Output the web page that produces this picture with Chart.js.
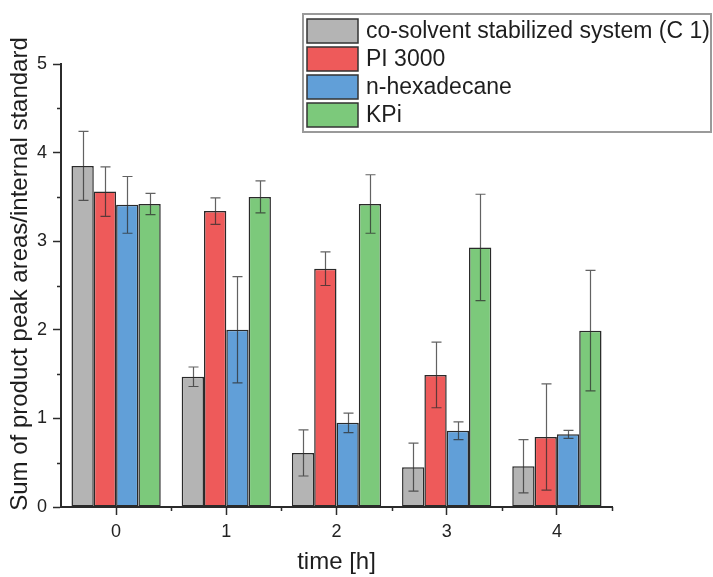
<!DOCTYPE html>
<html>
<head>
<meta charset="utf-8">
<script src="https://cdn.jsdelivr.net/npm/chart.js@4/dist/chart.umd.min.js"></script>
<style>
  html, body { margin: 0; padding: 0; background: #fff; }
  canvas { display: block; }
</style>
</head>
<body>
<canvas id="chart" width="713" height="577"></canvas>
<script>
// time points (h)
const times = ['0', '1', '2', '3', '4'];

// mean values and standard deviations per system
const cosolvent = [3.85, 1.47, 0.61, 0.45, 0.46];
const cosolventErr = [0.39, 0.11, 0.26, 0.27, 0.30];
const pi3000 = [3.56, 3.34, 2.69, 1.49, 0.79];
const pi3000Err = [0.28, 0.15, 0.19, 0.37, 0.60];
const hexadecane = [3.41, 2.00, 0.95, 0.86, 0.82];
const hexadecaneErr = [0.32, 0.60, 0.11, 0.10, 0.045];
const kpi = [3.42, 3.50, 3.42, 2.93, 1.99];
const kpiErr = [0.12, 0.18, 0.33, 0.60, 0.68];

const seriesNames = ['co-solvent stabilized system (C 1)', 'PI 3000', 'n-hexadecane', 'KPi'];
const seriesColors = ['#b4b4b4', '#ee5a5a', '#619fd8', '#7cc97b'];

const yMin = 0, yMax = 5, yStep = 1;
const yTitle = 'Sum of product peak areas/internal standard';

const FONT = '"Liberation Sans", Arial, sans-serif';
const INK = '#2b2b2b';

function makeSet(i, data, errors) {
  return {
    label: seriesNames[i],
    data: data,
    errors: errors,
    backgroundColor: seriesColors[i],
    borderColor: '#2a2a2a',
    borderWidth: 1.5,
    borderSkipped: false,
    barPercentage: 1,
    categoryPercentage: 0.81
  };
}

// error bars with short caps, drawn from the y scale
const errorBars = {
  id: 'errorBars',
  afterDatasetsDraw(chart) {
    const ctx = chart.ctx, y = chart.scales.y;
    ctx.save();
    ctx.strokeStyle = 'rgba(45,45,45,0.75)';
    ctx.lineWidth = 1.2;
    chart.data.datasets.forEach((ds, i) => {
      chart.getDatasetMeta(i).data.forEach((bar, j) => {
        const v = ds.data[j], e = ds.errors[j];
        const top = y.getPixelForValue(v + e);
        const bot = y.getPixelForValue(v - e);
        const x = Math.round(bar.x) + 0.5;
        ctx.beginPath();
        ctx.moveTo(x, top); ctx.lineTo(x, bot);
        ctx.moveTo(x - 5, top); ctx.lineTo(x + 5, top);
        ctx.moveTo(x - 5, bot); ctx.lineTo(x + 5, bot);
        ctx.stroke();
      });
    });
    ctx.restore();
  }
};

// short minor ticks (half steps on y, category edges on x) and the y title
const axisExtras = {
  id: 'axisExtras',
  afterDraw(chart) {
    const { ctx, chartArea: a } = chart;
    const x = chart.scales.x, y = chart.scales.y;
    ctx.save();
    ctx.strokeStyle = INK;
    ctx.lineWidth = 1.5;
    ctx.beginPath();
    for (let v = yMin + yStep / 2; v < yMax; v += yStep) {
      const py = Math.round(y.getPixelForValue(v)) + 0.5;
      ctx.moveTo(a.left, py); ctx.lineTo(a.left - 4, py);
    }
    for (let i = 0; i < times.length; i++) {
      const px = Math.round(x.getPixelForValue(i + 0.5)) + 0.5;
      ctx.moveTo(px, a.bottom); ctx.lineTo(px, a.bottom + 4);
    }
    ctx.stroke();

    ctx.translate(20, 274);
    ctx.rotate(-Math.PI / 2);
    ctx.font = '24px ' + FONT;
    ctx.fillStyle = '#1e1e1e';
    ctx.textAlign = 'center';
    ctx.textBaseline = 'middle';
    ctx.fillText(yTitle, 0, 0);
    ctx.restore();
  }
};

// framed legend sitting over the top right of the plot
const boxLegend = {
  id: 'boxLegend',
  afterDraw(chart) {
    const ctx = chart.ctx;
    const bx = 303, by = 14, bw = 408, bh = 118;
    ctx.save();
    ctx.fillStyle = '#fff';
    ctx.fillRect(bx, by, bw, bh);
    ctx.strokeStyle = '#9a9a9a';
    ctx.lineWidth = 2;
    ctx.strokeRect(bx, by, bw, bh);
    ctx.font = '23px ' + FONT;
    ctx.textBaseline = 'middle';
    ctx.textAlign = 'left';
    chart.data.datasets.forEach((ds, i) => {
      const sy = 19 + i * 28;
      ctx.fillStyle = ds.backgroundColor;
      ctx.fillRect(307, sy, 51, 24);
      ctx.strokeStyle = '#333';
      ctx.lineWidth = 1.5;
      ctx.strokeRect(307, sy, 51, 24);
      ctx.fillStyle = '#1e1e1e';
      ctx.fillText(ds.label, 366, sy + 13);
    });
    ctx.restore();
  }
};

new Chart(document.getElementById('chart'), {
  type: 'bar',
  data: {
    labels: times,
    datasets: [
      makeSet(0, cosolvent, cosolventErr),
      makeSet(1, pi3000, pi3000Err),
      makeSet(2, hexadecane, hexadecaneErr),
      makeSet(3, kpi, kpiErr)
    ]
  },
  options: {
    responsive: false,
    animation: false,
    layout: { padding: { top: 64, right: 101, left: 0, bottom: 0 } },
    plugins: { legend: { display: false }, tooltip: { enabled: false } },
    scales: {
      x: {
        grid: { drawOnChartArea: false, offset: false, tickLength: 8, tickColor: INK, tickWidth: 1.5 },
        border: { color: INK, width: 2 },
        ticks: { color: '#222', font: { family: FONT, size: 18 }, padding: 6 },
        title: {
          display: true, text: 'time [h]', color: '#1e1e1e',
          font: { family: FONT, size: 24 }, padding: { top: 0, bottom: 0 }
        },
        afterFit: s => { s.height = 70; }
      },
      y: {
        min: yMin, max: yMax,
        grid: { drawOnChartArea: false, tickLength: 8, tickColor: INK, tickWidth: 1.5 },
        border: { color: INK, width: 2 },
        ticks: { stepSize: yStep, color: '#222', font: { family: FONT, size: 18 }, padding: 6 },
        title: { display: false },
        afterFit: s => { s.width = 61; }
      }
    }
  },
  plugins: [errorBars, axisExtras, boxLegend]
});
</script>
</body>
</html>
